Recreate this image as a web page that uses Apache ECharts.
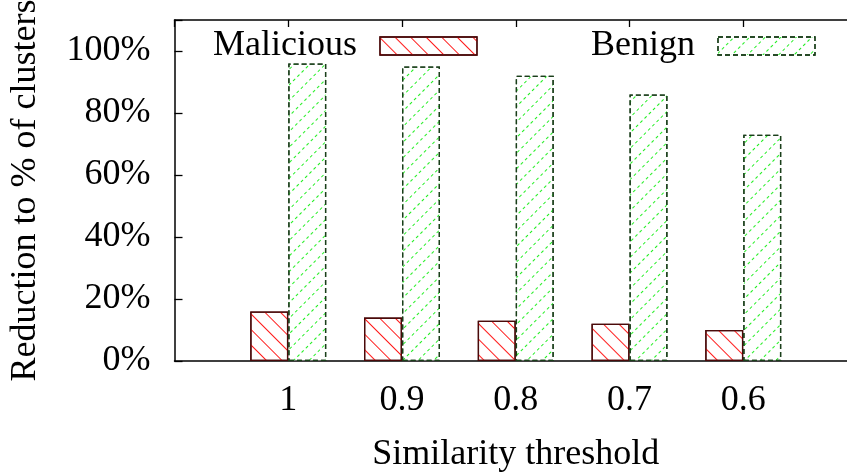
<!DOCTYPE html>
<html>
<head>
<meta charset="utf-8">
<style>
  html, body { margin: 0; padding: 0; background: #fff; }
  #chart { width: 847px; height: 475px; }
</style>
<script src="https://cdn.jsdelivr.net/npm/echarts@6/dist/echarts.min.js"></script>
</head>
<body>
<div id="chart"></div>
<script>
// ---- data ----
const categories = ['1', '0.9', '0.8', '0.7', '0.6'];
const malicious = [16, 14, 13, 12, 10];
const benign = [96, 95, 92, 86, 73];
const yTicks = [0, 20, 40, 60, 80, 100];

// padded category list so the axis runs from -1 to 5 (gnuplot style xrange)
const xCats = [''].concat(categories, ['']);
const pad = arr => ['-'].concat(arr, ['-']);

const FONT = 'Liberation Serif';
const FS = 36;

const chart = echarts.init(document.getElementById('chart'), null, { renderer: 'canvas' });

const malDecal = {
  symbol: 'rect', symbolSize: 1,
  dashArrayX: [1, 0], dashArrayY: [1, 10],
  rotation: Math.PI / 4,
  color: '#ff1a1a'
};
const benDecal = {
  symbol: 'rect', symbolSize: 1,
  dashArrayX: [3, 3], dashArrayY: [1, 10],
  rotation: -Math.PI / 4,
  color: '#22ee22'
};
const malStyle = { color: '#ffffff', borderColor: '#4a0a0a', borderWidth: 1.3, decal: malDecal };
const benStyle = { color: '#ffffff', borderColor: '#1a3f1a', borderWidth: 1.3, borderType: [5, 3], decal: benDecal };

const option = {
  animation: false,
  backgroundColor: '#ffffff',
  textStyle: { fontFamily: FONT },
  grid: { left: 174.5, right: -10, top: 20, bottom: 114, containLabel: false, outerBoundsMode: 'none' },
  legend: [
    {
      data: ['Malicious'], left: 213, top: 28, padding: 0, align: 'right', icon: 'rect',
      itemWidth: 97, itemHeight: 18,
      textStyle: { fontFamily: FONT, fontSize: FS, color: '#000', padding: [0, 18, 0, 0] },
      itemStyle: { borderWidth: 1.3, borderColor: '#4a0a0a' },
      selectedMode: false
    },
    {
      data: ['Benign'], left: 591, top: 28, padding: 0, align: 'right', icon: 'rect',
      itemWidth: 97, itemHeight: 18,
      textStyle: { fontFamily: FONT, fontSize: FS, color: '#000', padding: [0, 18, 0, 0] },
      itemStyle: { borderWidth: 1.3, borderColor: '#1a3f1a', borderType: [5, 3] },
      selectedMode: false
    }
  ],
  xAxis: [
    {
      type: 'category', data: xCats, boundaryGap: false, position: 'bottom',
      axisLine: { lineStyle: { color: '#000', width: 1.5 } },
      axisTick: { show: false },
      axisLabel: { fontFamily: FONT, fontSize: FS, color: '#000', margin: 22, interval: 0 },
      name: 'Similarity threshold', nameLocation: 'middle', nameGap: 76,
      nameTextStyle: { fontFamily: FONT, fontSize: FS, color: '#000' }
    },
    {
      type: 'category', data: xCats, boundaryGap: false, position: 'top',
      axisLine: { lineStyle: { color: '#000', width: 1.5 } },
      axisTick: { show: true, inside: true, length: 7, interval: 0, lineStyle: { color: '#000', width: 1.3 } },
      axisLabel: { show: false }
    }
  ],
  yAxis: [
    {
      type: 'value', min: 0, max: 110, interval: 20,
      axisLine: { show: true, lineStyle: { color: '#000', width: 1.5 } },
      axisTick: { show: true, inside: true, length: 8, lineStyle: { color: '#000', width: 1.3 } },
      splitLine: { show: false },
      axisLabel: {
        fontFamily: FONT, fontSize: FS, color: '#000', margin: 24,
        formatter: v => (yTicks.indexOf(v) >= 0 ? v + '%' : '')
      },
      name: 'Reduction to % of clusters', nameLocation: 'middle', nameGap: 131, nameRotate: 90,
      nameTextStyle: { fontFamily: FONT, fontSize: FS, color: '#000' }
    }
  ],
  series: [
    {
      name: 'Malicious', type: 'bar', data: pad(malicious),
      barWidth: 38, barGap: '0%', itemStyle: malStyle
    },
    {
      name: 'Benign', type: 'bar', data: pad(benign),
      barWidth: 38, barGap: '0%', itemStyle: benStyle
    }
  ]
};
chart.setOption(option);
</script>
</body>
</html>
